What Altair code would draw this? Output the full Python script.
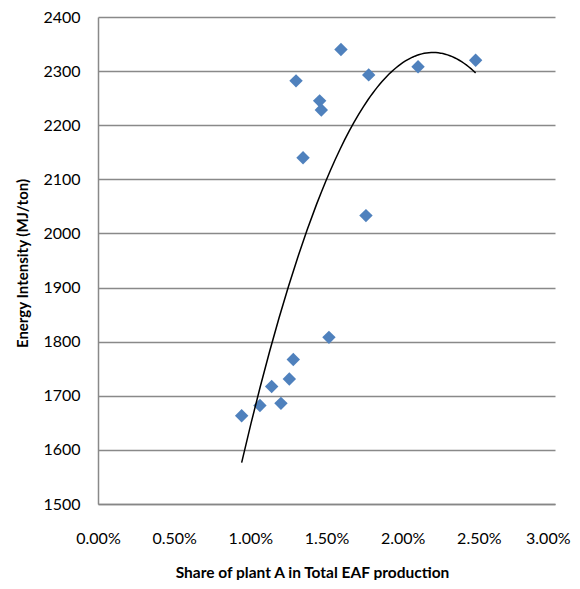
import altair as alt
import pandas as pd

share = [0.00943, 0.01063, 0.01140, 0.01201, 0.01256, 0.01282, 0.01516, 0.01300,
         0.01595, 0.01455, 0.01466, 0.01346, 0.01777, 0.01759, 0.02101, 0.02479]
intensity = [1663, 1682, 1717, 1686, 1731, 1767, 1808, 2282,
             2340, 2245, 2228, 2140, 2293, 2033, 2308, 2320]
x_ticks = [0, 0.005, 0.01, 0.015, 0.02, 0.025, 0.03]
y_ticks = [1500, 1600, 1700, 1800, 1900, 2000, 2100, 2200, 2300, 2400]

df = pd.DataFrame({"share": share, "intensity": intensity})

FONT = "Lato"

x_enc = alt.X("share:Q",
              scale=alt.Scale(domain=[0, 0.03], nice=False, zero=False),
              axis=alt.Axis(values=x_ticks, format=".2%", grid=False, ticks=False,
                            domainColor="#868686", domainWidth=1.5,
                            labelFont=FONT, labelFontSize=16, labelColor="#000000",
                            labelPadding=26, labelFlush=False, labelOverlap=False,
                            labelAlign={"condition": {"test": "datum.value >= 0.0299",
                                                      "value": "right"},
                                        "value": "center"},
                            labelOffset={"condition": {"test": "datum.value >= 0.0299",
                                                       "value": 15},
                                         "value": 0},
                            title="Share of plant A in Total EAF production",
                            titleFont=FONT, titleFontSize=15.5, titleFontWeight="bold",
                            titleColor="#000000", titleX=214, titleY=73,
                            titleAlign="center", titleBaseline="alphabetic"))
y_enc = alt.Y("intensity:Q",
              scale=alt.Scale(domain=[1500, 2400], nice=False, zero=False),
              axis=alt.Axis(values=y_ticks, format="d", grid=True, gridColor="#898989",
                            gridWidth=1.5, ticks=False,
                            domainColor="#898989", domainWidth=1.5,
                            labelFont=FONT, labelFontSize=16, labelColor="#000000",
                            labelPadding=18, labelFlush=False, labelOverlap=False,
                            title="Energy Intensity (MJ/ton)",
                            titleFont=FONT, titleFontSize=15, titleFontWeight="bold",
                            titleColor="#000000", titleX=-76, titleY=246,
                            titleAngle=-90, titleAlign="center", titleBaseline="middle"))

points = alt.Chart(df).mark_point(shape="diamond", filled=True, size=180,
                                  color="#4F81BD", opacity=1).encode(x=x_enc, y=y_enc)

trend = alt.Chart(df).transform_regression(
    "share", "intensity", method="poly", order=2
).mark_line(color="#000000", strokeWidth=1.5).encode(x="share:Q", y="intensity:Q")

chart = alt.layer(points, trend).properties(
    width=457, height=487,
    autosize=alt.AutoSizeParams(type="none"),
    padding={"left": 90, "top": 9, "right": 17, "bottom": 76},
).configure_view(stroke=None)

chart.save("out.html", embed_options={"renderer": "svg", "actions": False})
